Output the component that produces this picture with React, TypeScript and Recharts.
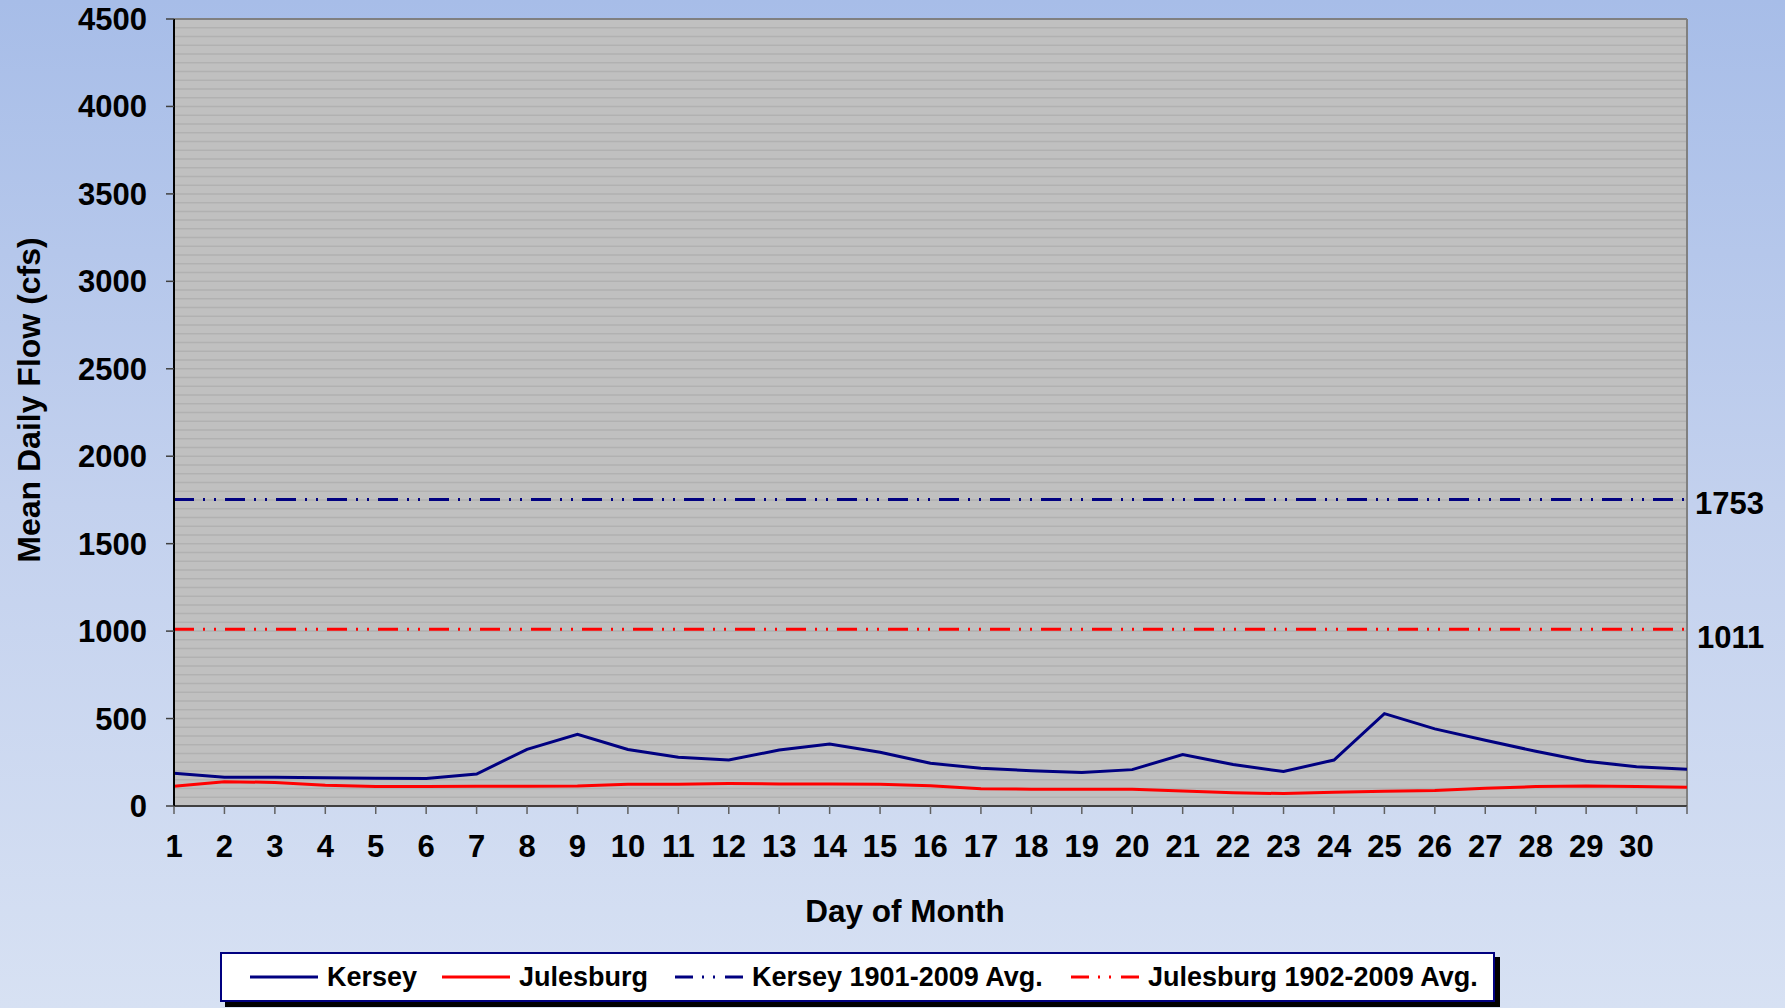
import React from 'react';
import { LineChart, Line, XAxis, YAxis, CartesianGrid, ReferenceLine, Label } from 'recharts';

const days = [1, 2, 3, 4, 5, 6, 7, 8, 9, 10, 11, 12, 13, 14, 15, 16, 17, 18, 19, 20, 21, 22, 23, 24, 25, 26, 27, 28, 29, 30, 31];
const kersey = [187, 164, 164, 162, 158, 157, 183, 324, 410, 323, 279, 263, 320, 355, 307, 244, 216, 202, 191, 208, 294, 237, 197, 263, 528, 441, 376, 313, 256, 225, 210];
const julesburg = [113, 139, 135, 118, 111, 111, 113, 113, 115, 124, 124, 128, 126, 126, 124, 116, 99, 96, 96, 96, 86, 76, 71, 79, 84, 88, 101, 111, 115, 111, 107];
const kerseyAvg = 1753;
const julesburgAvg = 1011;
const yTicks = [0, 500, 1000, 1500, 2000, 2500, 3000, 3500, 4000, 4500];
const seriesNames = ['Kersey', 'Julesburg', 'Kersey 1901-2009 Avg.', 'Julesburg 1902-2009 Avg.'];

const data = days.map((d, i) => ({
  day: d,
  kersey: kersey[i],
  julesburg: julesburg[i],
  kerseyAvg: kerseyAvg,
  julesburgAvg: julesburgAvg,
}));

const gridValues: number[] = [];
for (let v = 0; v <= 4500; v += 50) gridValues.push(v);

const FONT = '"Liberation Sans", Arial, sans-serif';
const NAVY = '#000080';
const RED = '#ff0000';
const DASH = '20 9 2 9 2 9';

const tickStyle = { fontSize: 31, fontWeight: 700, fill: '#000', fontFamily: FONT };

function LegendSample({ color, dashed }: { color: string; dashed: boolean }) {
  return (
    <svg width={68} height={10} style={{ display: 'block' }}>
      {dashed ? (
        <g stroke={color} strokeWidth={3}>
          <line x1={0} y1={5} x2={18} y2={5} />
          <line x1={27} y1={5} x2={29} y2={5} />
          <line x1={38} y1={5} x2={40} y2={5} />
          <line x1={50} y1={5} x2={68} y2={5} />
        </g>
      ) : (
        <line x1={0} y1={5} x2={68} y2={5} stroke={color} strokeWidth={3} />
      )}
    </svg>
  );
}

export default function App() {
  const legendItems = [
    { name: seriesNames[0], color: NAVY, dashed: false, left: 250 },
    { name: seriesNames[1], color: RED, dashed: false, left: 442 },
    { name: seriesNames[2], color: NAVY, dashed: true, left: 675 },
    { name: seriesNames[3], color: RED, dashed: true, left: 1071 },
  ];
  return (
    <div
      style={{
        position: 'absolute',
        left: 0,
        top: 0,
        width: 1785,
        height: 1008,
        background: 'linear-gradient(to bottom, #a7bde8 0%, #c3d1ee 50%, #d7e1f3 100%)',
        fontFamily: FONT,
        overflow: 'hidden',
      }}
    >
      <LineChart
        width={1785}
        height={1008}
        data={data}
        margin={{ top: 19, right: 98, left: 0, bottom: 142 }}
      >
        <CartesianGrid
          horizontal={true}
          vertical={false}
          horizontalValues={gridValues}
          stroke="#b1b1b1"
          strokeWidth={1.5}
          fill="#c0c0c0"
          fillOpacity={1}
        />
        <XAxis
          dataKey="day"
          type="number"
          domain={[1, 31]}
          ticks={days}
          interval={0}
          tickFormatter={(v: number) => (v === 31 ? '' : String(v))}
          height={60}
          stroke="#404040"
          strokeWidth={2}
          tickSize={8}
          tickMargin={21}
          tickLine={{ stroke: '#606060', strokeWidth: 1.5 }}
          tick={tickStyle}
        >
          <Label
            value="Day of Month"
            position="bottom"
            content={() => (
              <text x={905} y={922} textAnchor="middle" fontSize={31.5} fontWeight={700} fontFamily={FONT} fill="#000">
                Day of Month
              </text>
            )}
          />
        </XAxis>
        <YAxis
          type="number"
          domain={[0, 4500]}
          ticks={yTicks}
          interval={0}
          width={174}
          stroke="#000"
          strokeWidth={2}
          tickSize={8}
          tickMargin={19}
          tickLine={{ stroke: '#404040', strokeWidth: 1.5 }}
          tick={tickStyle}
        >
          <Label
            value="Mean Daily Flow (cfs)"
            position="insideLeft"
            content={() => (
              <text
                x={29}
                y={400}
                transform="rotate(-90 29 400)"
                textAnchor="middle"
                dominantBaseline="central"
                fontSize={32}
                fontWeight={700}
                fontFamily={FONT}
                fill="#000"
              >
                Mean Daily Flow (cfs)
              </text>
            )}
          />
        </YAxis>
        <ReferenceLine y={4500} stroke="#808080" strokeWidth={2} />
        <ReferenceLine x={31} stroke="#808080" strokeWidth={2} />
        <Line
          dataKey="kerseyAvg"
          name={seriesNames[2]}
          stroke={NAVY}
          strokeWidth={3}
          strokeDasharray={DASH}
          dot={false}
          activeDot={false}
          isAnimationActive={false}
        />
        <Line
          dataKey="julesburgAvg"
          name={seriesNames[3]}
          stroke={RED}
          strokeWidth={3}
          strokeDasharray={DASH}
          dot={false}
          activeDot={false}
          isAnimationActive={false}
        />
        <Line
          dataKey="julesburg"
          name={seriesNames[1]}
          stroke={RED}
          strokeWidth={3}
          dot={false}
          activeDot={false}
          isAnimationActive={false}
        />
        <Line
          dataKey="kersey"
          name={seriesNames[0]}
          stroke={NAVY}
          strokeWidth={3}
          dot={false}
          activeDot={false}
          isAnimationActive={false}
        />
        <ReferenceLine
          y={kerseyAvg}
          stroke="none"
          ifOverflow="visible"
          label={{ value: String(kerseyAvg), position: 'right', offset: 8, dy: 4, fontSize: 31, fontWeight: 700, fill: '#000', fontFamily: FONT }}
        />
        <ReferenceLine
          y={julesburgAvg}
          stroke="none"
          ifOverflow="visible"
          label={{ value: String(julesburgAvg), position: 'right', offset: 10, dy: 8, fontSize: 31, fontWeight: 700, fill: '#000', fontFamily: FONT }}
        />
      </LineChart>
      <div
        style={{
          position: 'absolute',
          left: 225,
          top: 957,
          width: 1275,
          height: 50,
          background: '#000',
        }}
      />
      <div
        style={{
          position: 'absolute',
          left: 220,
          top: 952,
          width: 1271,
          height: 46,
          background: '#fff',
          border: `2px solid ${NAVY}`,
        }}
      />
      {legendItems.map((it) => (
        <div
          key={it.name}
          style={{
            position: 'absolute',
            left: it.left,
            top: 962,
            height: 30,
            display: 'flex',
            alignItems: 'center',
            gap: 9,
            whiteSpace: 'nowrap',
          }}
        >
          <LegendSample color={it.color} dashed={it.dashed} />
          <span style={{ fontSize: 27, fontWeight: 700, color: '#000', fontFamily: FONT }}>{it.name}</span>
        </div>
      ))}
    </div>
  );
}
